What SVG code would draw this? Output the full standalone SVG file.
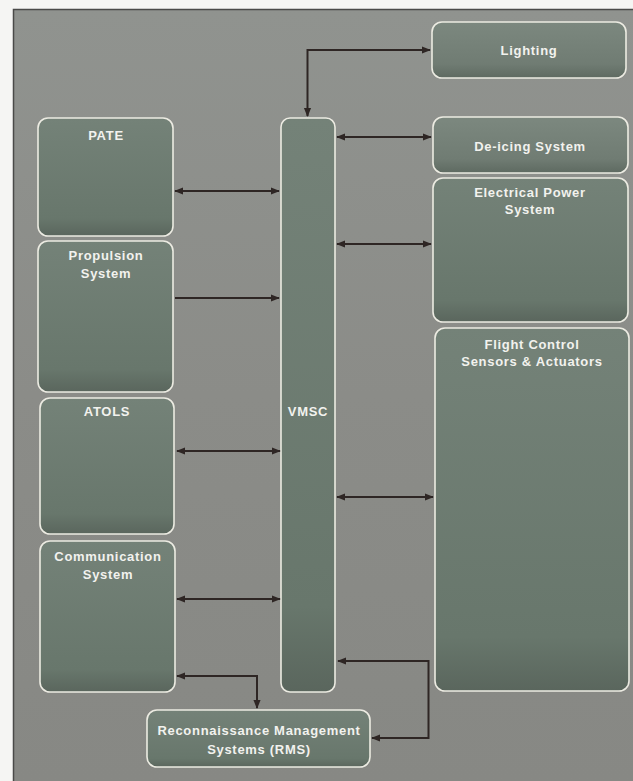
<svg xmlns="http://www.w3.org/2000/svg" width="633" height="781" viewBox="0 0 633 781">
<defs>
<linearGradient id="bg" x1="0" y1="0" x2="0" y2="1">
<stop offset="0" stop-color="#90938f"/>
<stop offset="0.5" stop-color="#8b8c88"/>
<stop offset="1" stop-color="#878884"/>
</linearGradient>
<linearGradient id="box" x1="0" y1="0" x2="0" y2="1">
<stop offset="0" stop-color="#748278"/>
<stop offset="0.85" stop-color="#68776c"/>
<stop offset="1" stop-color="#5a665d"/>
</linearGradient>
<linearGradient id="boxs" x1="0" y1="0" x2="0" y2="1">
<stop offset="0" stop-color="#7c887f"/>
<stop offset="0.75" stop-color="#707c73"/>
<stop offset="1" stop-color="#5e6a61"/>
</linearGradient>
<marker id="ah" viewBox="0 0 10 10" refX="9" refY="5" markerWidth="4.5" markerHeight="4.5" orient="auto-start-reverse" markerUnits="strokeWidth">
<path d="M0,1 L10,5 L0,9 z" fill="#2e2624"/>
</marker>
<style>
.n{fill:url(#box);stroke:#ecebe2;stroke-width:1.6}
.ns{fill:url(#boxs);stroke:#ecebe2;stroke-width:1.6}
.t{font-family:"Liberation Sans",Arial,sans-serif;font-weight:bold;font-size:13px;fill:#f2f2ee;text-anchor:middle;letter-spacing:0.7px}
.c{fill:none;stroke:#2e2624;stroke-width:2}
</style>
</defs>
<rect x="0" y="0" width="633" height="781" fill="#f5f5f3"/>
<rect x="13" y="9" width="620" height="772" fill="url(#bg)"/>
<path d="M13.5,781 V9.5 H633" fill="none" stroke="#4a4a48" stroke-width="1.5"/>

<g id="lighting"><rect class="ns" x="432" y="22" width="194" height="56" rx="10"/><text class="t" x="529" y="55">Lighting</text></g>
<g id="vmsc"><rect class="n" x="281" y="118" width="54" height="574" rx="9"/><text class="t" x="308" y="416">VMSC</text></g>
<g id="deicing"><rect class="ns" x="433" y="117" width="195" height="56" rx="10"/><text class="t" x="530" y="151">De-icing System</text></g>
<g id="electrical"><rect class="n" x="433" y="178" width="195" height="144" rx="10"/><text class="t" x="530" y="197">Electrical Power</text><text class="t" x="530" y="214">System</text></g>
<g id="flightcontrol"><rect class="n" x="435" y="328" width="194" height="363" rx="10"/><text class="t" x="532" y="349">Flight Control</text><text class="t" x="532" y="366">Sensors &amp; Actuators</text></g>
<g id="pate"><rect class="n" x="38" y="118" width="135" height="118" rx="10"/><text class="t" x="106" y="140">PATE</text></g>
<g id="propulsion"><rect class="n" x="38" y="241" width="135" height="151" rx="10"/><text class="t" x="106" y="260">Propulsion</text><text class="t" x="106" y="278">System</text></g>
<g id="atols"><rect class="n" x="40" y="398" width="134" height="136" rx="10"/><text class="t" x="107" y="416">ATOLS</text></g>
<g id="communication"><rect class="n" x="40" y="541" width="135" height="151" rx="10"/><text class="t" x="108" y="561">Communication</text><text class="t" x="108" y="579">System</text></g>
<g id="rms"><rect class="n" x="147" y="710" width="223" height="57" rx="10"/><text class="t" x="259" y="735">Reconnaissance Management</text><text class="t" x="259" y="754">Systems (RMS)</text></g>

<g id="connectors">
<path class="c" d="M307.5,116 V50 H430" marker-start="url(#ah)" marker-end="url(#ah)"/>
<path class="c" d="M337,137 H431" marker-start="url(#ah)" marker-end="url(#ah)"/>
<path class="c" d="M175,191 H279" marker-start="url(#ah)" marker-end="url(#ah)"/>
<path class="c" d="M337,244 H431" marker-start="url(#ah)" marker-end="url(#ah)"/>
<path class="c" d="M175,298 H279" marker-end="url(#ah)"/>
<path class="c" d="M177,451 H280" marker-start="url(#ah)" marker-end="url(#ah)"/>
<path class="c" d="M337,497 H433" marker-start="url(#ah)" marker-end="url(#ah)"/>
<path class="c" d="M177,599 H280" marker-start="url(#ah)" marker-end="url(#ah)"/>
<path class="c" d="M177,676 H257 V708" marker-start="url(#ah)" marker-end="url(#ah)"/>
<path class="c" d="M338,661 H428.5 V738 H372" marker-start="url(#ah)" marker-end="url(#ah)"/>
</g>
</svg>
